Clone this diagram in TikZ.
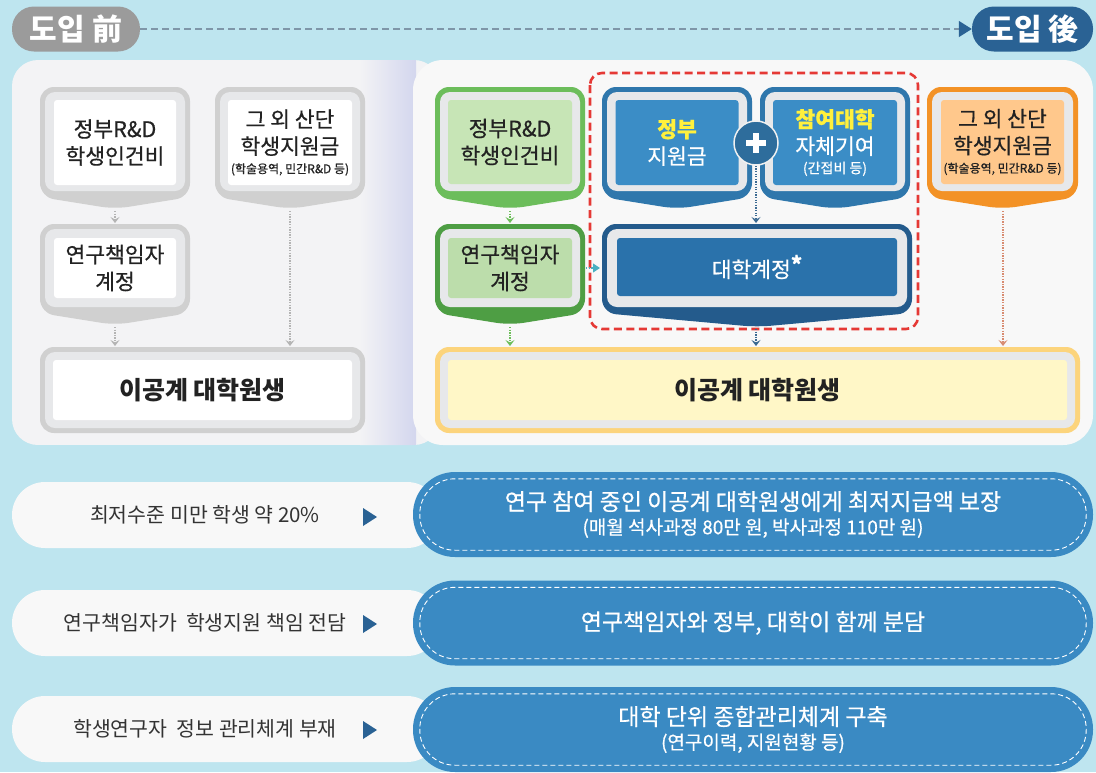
\documentclass[tikz,border=0pt]{standalone}
\usepackage{fontspec}
\setmainfont{Noto Sans CJK KR}
\newfontfamily\mediumfont{Noto Sans CJK KR}[FakeBold=0.6]
\usetikzlibrary{arrows.meta}

\definecolor{bgblue}{HTML}{BEE5EF}
\definecolor{paneL}{HTML}{F3F3F5}
\definecolor{paneR}{HTML}{F8F8F8}
\definecolor{lavender}{HTML}{D3D6EE}
\definecolor{ink}{HTML}{222222}
\definecolor{grayrim}{HTML}{D0D0D0}
\definecolor{band}{HTML}{E7E8EA}
\definecolor{grnrim}{HTML}{6CBD5B}
\definecolor{grnin}{HTML}{C7E5B6}
\definecolor{grnrimdk}{HTML}{4E9E44}
\definecolor{grnindk}{HTML}{BCDDAB}
\definecolor{bluerim}{HTML}{2F77AC}
\definecolor{bluein}{HTML}{3B8DC6}
\definecolor{unirim}{HTML}{245B8C}
\definecolor{uniin}{HTML}{2A72AB}
\definecolor{orgrim}{HTML}{F39226}
\definecolor{orgin}{HTML}{FFC88C}
\definecolor{ylwrim}{HTML}{FCD47C}
\definecolor{ylwin}{HTML}{FFF7C7}
\definecolor{redline}{HTML}{E53935}
\definecolor{plusblue}{HTML}{2E6D9C}
\definecolor{gold}{HTML}{FFF03C}
\definecolor{tagblue}{HTML}{2A6294}
\definecolor{taggray}{HTML}{9B9B9B}
\definecolor{pillblue}{HTML}{3A8AC3}
\definecolor{issuebg}{HTML}{F8F8F8}
\definecolor{issuetxt}{HTML}{333333}
\definecolor{arrgray}{HTML}{B4B4B4}
\definecolor{arrgreen}{HTML}{6DBE5A}
\definecolor{arrblue}{HTML}{3B6A92}
\definecolor{arrorange}{HTML}{D88B70}
\definecolor{arrcyan}{HTML}{4AAFC1}
\definecolor{headgray}{HTML}{7F96A8}

\newcommand{\chevbox}[7]{%
  \fill[#1,rounded corners=14pt] (#3,#4) -- (#5,#4) -- (#5,#6) -- ({(#3+#5)/2},#7) -- (#3,#6) -- cycle;
  \fill[#2,rounded corners=10pt] ({#3+5},{#4+5}) rectangle ({#5-5},{#6-6});}
\newcommand{\flatbox}[6]{%
  \fill[#1,rounded corners=14pt] (#3,#4) rectangle (#5,#6);
  \fill[#2,rounded corners=10pt] ({#3+5},{#4+5}) rectangle ({#5-5},{#6-5});}
\newcommand{\smallnote}[1]{{\fontsize{12}{13}\selectfont #1}}

\begin{document}
\begin{tikzpicture}[x=1pt,y=-1pt,
  inbox/.style={rounded corners=3pt,inner sep=0pt,align=center,text=ink,font=\mediumfont\fontsize{21.5}{27}\selectfont},
  flow/.style={line width=1.1pt,dash pattern=on 1.3pt off 1.3pt,-{Stealth[length=6pt,width=9pt,inset=2.5pt]}},
  tag/.style={rounded corners=22pt,minimum height=45,inner sep=0pt,text=white,font=\fontsize{30}{30}\selectfont\bfseries},
  headline/.style={headgray,line width=1.4pt,dash pattern=on 7pt off 4pt,-{Triangle[length=13pt,width=16pt,color=tagblue]}},
  issue/.style={text=issuetxt,font=\fontsize{20.5}{24}\selectfont},
  fix/.style={fill=pillblue,rounded corners=42pt,minimum width=680,minimum height=85,inner sep=0pt,align=center,text=white,font=\mediumfont\fontsize{23}{28}\selectfont},
  stitch/.style={white,line width=0.9pt,dash pattern=on 5pt off 3pt,rounded corners=35pt}]

  \fill[bgblue] (0,0) rectangle (1096,772);
  \useasboundingbox (0,0) rectangle (1096,772);

  \node[tag,fill=taggray,minimum width=128] (before) at (76,29) {도입 前};
  \node[tag,fill=tagblue,minimum width=121] (after) at (1032.5,29) {도입 後};
  \draw[headline] (before) -- (after);

  \begin{scope}
    \clip[rounded corners=26pt] (12,60) rectangle (440,445);
    \fill[paneL] (12,60) rectangle (440,445);
    \shade[left color=paneL,right color=lavender] (360,60) rectangle (416,445);
  \end{scope}
  \fill[paneR,rounded corners=30pt] (413,60) rectangle (1093,445);

  \chevbox{grayrim}{band}{40}{87}{190}{197}{209}
  \node[inbox,fill=white,minimum width=122,minimum height=85] (lrd) at (115,142.5) {정부R\&D\\학생인건비};
  \chevbox{grayrim}{band}{215}{87}{365}{197}{209}
  \node[inbox,fill=white,minimum width=124,minimum height=85] (lext) at (290,142.5) {그 외 산단\\학생지원금\\[-8pt]\smallnote{(학술용역, 민간R\&D 등)}};
  \chevbox{grayrim}{band}{40}{224}{190}{313}{325}
  \node[inbox,fill=white,minimum width=122,minimum height=60] (lacct) at (115,268) {연구책임자\\계정};
  \flatbox{grayrim}{band}{40}{347}{365}{433}
  \node[inbox,fill=white,minimum width=299,minimum height=60,font=\fontsize{25}{28}\selectfont\bfseries] (lgrad) at (202.5,390) {이공계 대학원생};

  \coordinate (lrd-tip) at (115,211);
  \coordinate (lacct-top) at (115,223);
  \coordinate (lacct-tip) at (115,327);
  \coordinate (lext-tip) at (290,211);
  \coordinate (lgrad-a) at (115,346);
  \coordinate (lgrad-b) at (290,346);
  \draw[flow,arrgray] (lrd-tip) -- (lacct-top);
  \draw[flow,arrgray] (lacct-tip) -- (lgrad-a);
  \draw[flow,arrgray] (lext-tip) -- (lgrad-b);

  \chevbox{grnrim}{band}{435}{87}{585}{197}{209}
  \node[inbox,fill=grnin,minimum width=124,minimum height=84] (rrd) at (510,142) {정부R\&D\\학생인건비};
  \chevbox{grnrimdk}{band}{435}{224}{585}{313}{325}
  \node[inbox,fill=grnindk,minimum width=124,minimum height=60] (racct) at (510,268) {연구책임자\\계정};

  \chevbox{bluerim}{band}{602}{87}{752}{197}{209}
  \node[inbox,fill=bluein,minimum width=123,minimum height=85,text=white] (gov) at (677,142.5) {\textcolor{gold}{\bfseries 정부}\\지원금};
  \chevbox{bluerim}{band}{760}{87}{910}{197}{209}
  \node[inbox,fill=bluein,minimum width=124,minimum height=85,text=white] (uni) at (835,142.5) {\textcolor{gold}{\bfseries 참여대학}\\자체기여\\[-8pt]{\fontsize{14}{15}\selectfont (간접비 등)}};
  \chevbox{unirim}{band}{602}{224}{912}{313}{327}
  \node[inbox,fill=uniin,minimum width=280,minimum height=58,text=white] (univacct) at (757,267) {대학계정\raisebox{5pt}{\bfseries *}};
  \node[circle,fill=plusblue,draw=white!88!gray,line width=1.5pt,minimum size=44,inner sep=0pt] (plus) at (756,143) {};
  \fill[white] ([shift={(-10,-3)}]plus.center) rectangle ([shift={(10,3)}]plus.center);
  \fill[white] ([shift={(-3,-10)}]plus.center) rectangle ([shift={(3,10)}]plus.center);

  \draw[redline,line width=2.6pt,dash pattern=on 8pt off 4.5pt,rounded corners=12pt] (590,73) rectangle (918,329);

  \chevbox{orgrim}{band}{927}{87}{1078}{197}{209}
  \node[inbox,fill=orgin,minimum width=123,minimum height=84] (rext) at (1002.5,142) {그 외 산단\\학생지원금\\[-8pt]\smallnote{(학술용역, 민간R\&D 등)}};

  \flatbox{ylwrim}{band}{435}{347}{1080}{433}
  \node[inbox,fill=ylwin,minimum width=619,minimum height=60,font=\fontsize{25}{28}\selectfont\bfseries] (rgrad) at (757.5,390) {이공계 대학원생};

  \coordinate (rrd-tip) at (510,211);
  \coordinate (racct-top) at (510,223);
  \coordinate (racct-tip) at (510,327);
  \coordinate (rgrad-a) at (510,346);
  \coordinate (univacct-top) at (756,223);
  \coordinate (univacct-tip) at (756,329);
  \coordinate (rgrad-b) at (756,346);
  \coordinate (rext-tip) at (1003,211);
  \coordinate (rgrad-c) at (1003,346);
  \coordinate (racct-side) at (586,268);
  \coordinate (redbox-side) at (600,268);
  \draw[flow,arrgreen] (rrd-tip) -- (racct-top);
  \draw[flow,arrgreen] (racct-tip) -- (rgrad-a);
  \draw[flow,arrblue] (plus) -- (univacct-top);
  \draw[flow,arrblue] (univacct-tip) -- (rgrad-b);
  \draw[flow,arrorange] (rext-tip) -- (rgrad-c);
  \draw[arrcyan,line width=1.1pt,dash pattern=on 1.3pt off 1.3pt,-{Triangle[length=7pt,width=9pt]}] (racct-side) -- (redbox-side);

  \fill[issuebg,rounded corners=33pt] (12,482) rectangle (440,548);
  \fill[issuebg,rounded corners=33pt] (12,590) rectangle (440,656);
  \fill[issuebg,rounded corners=33pt] (12,696) rectangle (440,762);
  \node[issue] (is1) at (205,515) {최저수준 미만 학생 약 20\%};
  \node[issue] (is2) at (205,623) {연구책임자가~ 학생지원 책임 전담};
  \node[issue] (is3) at (205,729) {학생연구자~ 정보 관리체계 부재};
  \fill[tagblue] (363,508) -- (377,517) -- (363,526) -- cycle;
  \fill[tagblue] (363,615) -- (377,624) -- (363,633) -- cycle;
  \fill[tagblue] (363,721) -- (377,730) -- (363,739) -- cycle;

  \node[fix] (fx1) at (753,514.5) {연구 참여 중인 이공계 대학원생에게 최저지급액 보장\\[-4pt]{\fontsize{19}{23}\selectfont (매월 석사과정 80만 원, 박사과정 110만 원)}};
  \node[fix] (fx2) at (753,623) {연구책임자와 정부, 대학이 함께 분담};
  \node[fix] (fx3) at (753,729.5) {대학 단위 종합관리체계 구축\\[-4pt]{\fontsize{19}{23}\selectfont (연구이력, 지원현황 등)}};
  \foreach \f in {fx1,fx2,fx3}
    \draw[stitch] ([shift={(7,7)}]\f.north west) rectangle ([shift={(-7,-7)}]\f.south east);
\end{tikzpicture}
\end{document}
